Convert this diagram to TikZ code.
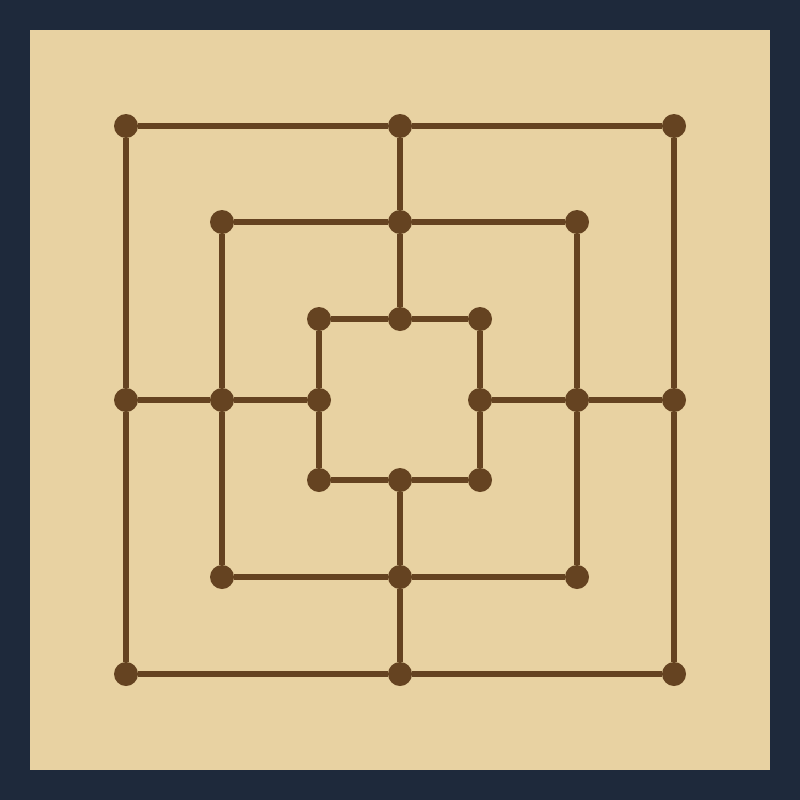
\documentclass[tikz,border=0pt]{standalone}
\definecolor{navy}{HTML}{1E293B}
\definecolor{board}{HTML}{E8D2A2}
\definecolor{wood}{HTML}{654321}
\begin{document}
\begin{tikzpicture}[x=1pt,y=-1pt,
  pt/.style={circle,fill=wood,minimum size=24pt,inner sep=0pt,outer sep=0pt},
  ln/.style={draw=wood,line width=6pt}]
\fill[navy] (0,0) rectangle (800,800);
\fill[board] (30,30) rectangle (770,770);
\useasboundingbox (0,0) rectangle (800,800);
\foreach \s/\a/\b in {o/126/674, m/222/577, i/319/480}{
  \node[pt] (\s TL) at (\a,\a) {};
  \node[pt] (\s TM) at (400,\a) {};
  \node[pt] (\s TR) at (\b,\a) {};
  \node[pt] (\s MR) at (\b,400) {};
  \node[pt] (\s BR) at (\b,\b) {};
  \node[pt] (\s BM) at (400,\b) {};
  \node[pt] (\s BL) at (\a,\b) {};
  \node[pt] (\s ML) at (\a,400) {};
}
\foreach \s in {o,m,i}{
  \draw[ln] (\s TL) -- (\s TM);
  \draw[ln] (\s TM) -- (\s TR);
  \draw[ln] (\s TR) -- (\s MR);
  \draw[ln] (\s MR) -- (\s BR);
  \draw[ln] (\s BR) -- (\s BM);
  \draw[ln] (\s BM) -- (\s BL);
  \draw[ln] (\s BL) -- (\s ML);
  \draw[ln] (\s ML) -- (\s TL);
}
\foreach \p in {TM,MR,BM,ML}{
  \draw[ln] (o\p) -- (m\p);
  \draw[ln] (m\p) -- (i\p);
}
\end{tikzpicture}
\end{document}
